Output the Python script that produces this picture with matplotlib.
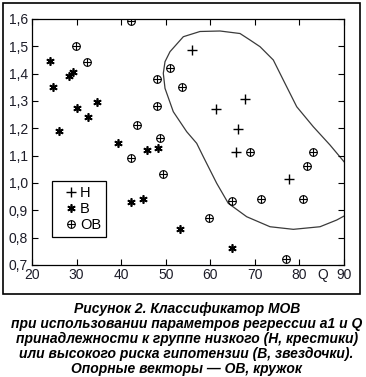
import matplotlib
matplotlib.use("Agg")
import matplotlib.pyplot as plt
from matplotlib.patches import Rectangle
from matplotlib import font_manager

# class H (low risk), plus markers
h_q = [56.0, 67.9, 61.2, 66.3, 65.7, 77.7]
h_a1 = [1.487, 1.306, 1.269, 1.196, 1.113, 1.016]

# class B (high risk), asterisks
b_q = [24.0, 24.6, 28.2, 29.3, 30.1, 32.6, 34.5, 26.0, 39.4, 45.7, 48.2, 42.1, 44.8, 53.2, 64.9]
b_a1 = [1.446, 1.351, 1.390, 1.407, 1.273, 1.242, 1.297, 1.190, 1.145, 1.119, 1.129, 0.930, 0.943, 0.833, 0.762]

# support vectors
ob_q = [42.2, 29.9, 32.4, 50.9, 48.0, 53.6, 48.0, 43.5, 48.7, 42.2, 49.4, 68.9, 83.0, 81.6, 64.8, 71.3, 80.8, 59.8, 77.0]
ob_a1 = [1.592, 1.502, 1.441, 1.422, 1.381, 1.351, 1.281, 1.212, 1.163, 1.092, 1.034, 1.112, 1.112, 1.062, 0.933, 0.942, 0.942, 0.871, 0.722]

# separating boundary
boundary_q = [90.0, 88.36, 84.62, 78.63, 73.40, 68.17, 64.04, 61.44, 58.43, 56.95, 54.71, 51.70, 49.84, 49.46,
              49.84, 50.96, 53.95, 57.69, 62.18, 66.67, 68.91, 71.16, 73.02, 74.14, 76.38, 79.39, 83.11, 86.86, 90.0]
boundary_a1 = [0.879, 0.8645, 0.840, 0.8305, 0.840, 0.8766, 0.9257, 0.9989, 1.0962, 1.1452, 1.1876, 1.2608, 1.3464, 1.4013,
               1.4438, 1.4804, 1.5352, 1.5543, 1.5561, 1.5469, 1.5232, 1.4987, 1.4683, 1.450, 1.3768, 1.2791, 1.2059, 1.1390, 1.0779]

x_ticks = [20, 30, 40, 50, 60, 70, 80, 90]
y_ticks = [0.7, 0.8, 0.9, 1.0, 1.1, 1.2, 1.3, 1.4, 1.5, 1.6]
y_labels = ["0,7", "0,8", "0,9", "1,0", "1,1", "1,2", "1,3", "1,4", "1,5", "1,6"]

caption = [
    "Рисунок 2. Классификатор МОВ",
    "при использовании параметров регрессии a1 и Q",
    "принадлежности к группе низкого (Н, крестики)",
    "или высокого риска гипотензии (В, звездочки).",
    "Опорные векторы — ОВ, кружок",
]

names = {f.name for f in font_manager.fontManager.ttflist}
tick_font = "Liberation Sans Narrow" if "Liberation Sans Narrow" in names else "Liberation Sans"

W, H = 366, 377
fig = plt.figure(figsize=(W / 100, H / 100), dpi=100)
ax = fig.add_axes([32 / W, 1 - 265 / H, 312 / W, 246 / H])

ax.plot(boundary_q, boundary_a1, color="#3a3a3a", lw=0.9, zorder=1)
ax.plot(h_q, h_a1, ls="none", marker="+", ms=7, mew=1.0, color="black")
ax.plot(b_q, b_a1, ls="none", marker=(6, 2, 0), ms=6, mew=1.2, color="black")
ax.plot(ob_q, ob_a1, ls="none", marker="o", ms=5.5, mew=0.8, mfc="none", color="black")
ax.plot(ob_q, ob_a1, ls="none", marker="+", ms=5.5, mew=0.8, color="black")

ax.set_xlim(20, 90)
ax.set_ylim(0.7, 1.6)
ax.set_xticks(x_ticks)
ax.set_yticks(y_ticks)
ax.set_yticklabels(y_labels)
ax.tick_params(direction="in", length=4, width=0.8, top=True, right=True, pad=3,
               labelsize=10, labelcolor="#1c1c28")
ax.tick_params(axis="x", pad=2.5)
for lbl in ax.get_xticklabels() + ax.get_yticklabels():
    lbl.set_family(tick_font)
for s in ax.spines.values():
    s.set_linewidth(0.9)

ax.text(85.2, -0.012, "Q", transform=ax.get_xaxis_transform(), ha="center", va="top",
        fontsize=10, family=tick_font, color="#1c1c28")

# legend handles (support vector = circle with plus overlaid)
hh, = ax.plot([], [], ls="none", marker="+", ms=7, mew=1.0, color="black")
hb, = ax.plot([], [], ls="none", marker=(6, 2, 0), ms=6, mew=1.2, color="black")
hc, = ax.plot([], [], ls="none", marker="o", ms=5.5, mew=0.8, mfc="none", color="black")
hp, = ax.plot([], [], ls="none", marker="+", ms=5.5, mew=0.8, color="black")
leg = ax.legend([hh, hb, (hc, hp)], ["H", "B", "OB"],
                loc="lower left", bbox_to_anchor=(0.063, 0.1126), borderaxespad=0,
                fancybox=False, framealpha=1, edgecolor="black", numpoints=1,
                handlelength=1.9, handletextpad=-0.3, borderpad=0.35, labelspacing=0.15,
                prop={"family": tick_font, "size": 10.5})
leg.get_frame().set_linewidth(0.9)

# outer frame around the plot area
fig.patches.append(Rectangle((3 / W, 1 - 294 / H), 357 / W, 291 / H, transform=fig.transFigure,
                             fill=False, edgecolor="black", lw=1.2))

y0 = 308.5
for i, line in enumerate(caption):
    fig.text(0.51, 1 - (y0 + i * 15.2) / H, line, ha="center", va="center",
             fontsize=10, fontweight="bold", fontstyle="italic", family="Liberation Sans")

fig.savefig("out.png", dpi=100)
